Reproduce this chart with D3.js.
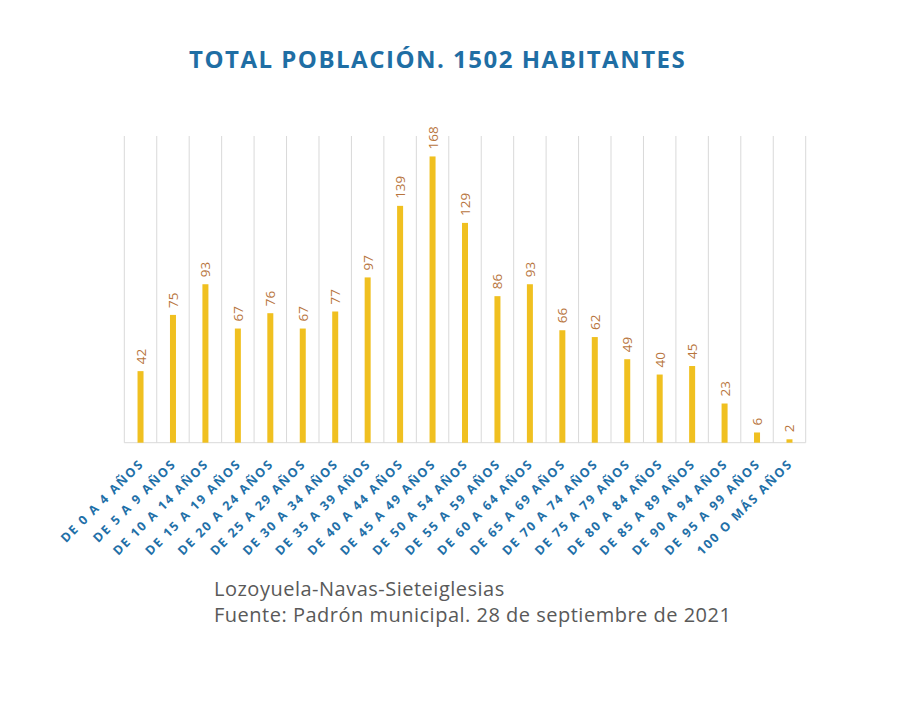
<!DOCTYPE html>
<html>
<head>
<meta charset="utf-8">
<script src="https://cdn.jsdelivr.net/npm/d3@7"></script>
<style>
  body { margin: 0; background: #fff; }
  svg { display: block; }
</style>
</head>
<body>
<div id="chart"></div>
<script>
// age groups and number of inhabitants
var grupos = ["DE 0 A 4 AÑOS", "DE 5 A 9 AÑOS", "DE 10 A 14 AÑOS", "DE 15 A 19 AÑOS",
  "DE 20 A 24 AÑOS", "DE 25 A 29 AÑOS", "DE 30 A 34 AÑOS", "DE 35 A 39 AÑOS",
  "DE 40 A 44 AÑOS", "DE 45 A 49 AÑOS", "DE 50 A 54 AÑOS", "DE 55 A 59 AÑOS",
  "DE 60 A 64 AÑOS", "DE 65 A 69 AÑOS", "DE 70 A 74 AÑOS", "DE 75 A 79 AÑOS",
  "DE 80 A 84 AÑOS", "DE 85 A 89 AÑOS", "DE 90 A 94 AÑOS", "DE 95 A 99 AÑOS",
  "100 O MÁS AÑOS"];
var habitantes = [42, 75, 93, 67, 76, 67, 77, 97, 139, 168, 129, 86, 93, 66, 62, 49, 40, 45, 23, 6, 2];
var titulo = "TOTAL POBLACIÓN. 1502 HABITANTES";
var notas = ["Lozoyuela-Navas-Sieteiglesias", "Fuente: Padrón municipal. 28 de septiembre de 2021"];

var W = 904, H = 717;
var margin = {top: 136, left: 124.3, right: W - 805.7, bottom: H - 442.7};
var width = W - margin.left - margin.right,
    height = H - margin.top - margin.bottom;

var svg = d3.select("#chart").append("svg")
    .attr("width", W)
    .attr("height", H);

// title
svg.append("text")
    .attr("x", 189)
    .attr("y", 68)
    .attr("fill", "#1f6ea4")
    .attr("font-family", "Open Sans")
    .attr("font-weight", "bold")
    .attr("font-size", 24)
    .attr("letter-spacing", 1.5)
    .text(titulo);

var g = svg.append("g")
    .attr("transform", "translate(" + margin.left + "," + margin.top + ")");

var x = d3.scaleBand()
    .domain(grupos)
    .range([0, width])
    .paddingInner(0.815)
    .paddingOuter(0.4075);

var y = d3.scaleLinear()
    .domain([0, 180])
    .range([height, 0]);

// vertical gridlines between categories
var bandStep = width / grupos.length;
g.selectAll(".grid")
    .data(d3.range(grupos.length + 1))
  .enter().append("line")
    .attr("class", "grid")
    .attr("x1", function(i) { return i * bandStep; })
    .attr("x2", function(i) { return i * bandStep; })
    .attr("y1", 0)
    .attr("y2", height)
    .attr("stroke", "#d9d9d9")
    .attr("stroke-width", 1);

// baseline
g.append("line")
    .attr("x1", 0)
    .attr("x2", width)
    .attr("y1", y(0))
    .attr("y2", y(0))
    .attr("stroke", "#d9d9d9");

// bars
g.selectAll(".bar")
    .data(habitantes)
  .enter().append("rect")
    .attr("class", "bar")
    .attr("x", function(d, i) { return x(grupos[i]); })
    .attr("width", x.bandwidth())
    .attr("y", function(d) { return y(d); })
    .attr("height", function(d) { return y(0) - y(d); })
    .attr("fill", "#f0c020");

// rotated value labels
g.selectAll(".valor")
    .data(habitantes)
  .enter().append("text")
    .attr("class", "valor")
    .attr("transform", function(d, i) {
      return "translate(" + (x(grupos[i]) + x.bandwidth() / 2 + 5) + "," + (y(d) - 7) + ") rotate(-90)";
    })
    .attr("fill", "#b8753d")
    .attr("font-family", "Open Sans")
    .attr("font-size", 13.5)
    .text(function(d) { return d; });

// x axis labels, rotated -45
var xAxis = g.append("g")
    .attr("transform", "translate(0," + height + ")")
    .call(d3.axisBottom(x).tickSize(0).tickPadding(0));
xAxis.select(".domain").remove();
xAxis.selectAll("text")
    .attr("fill", "#1f70a8")
    .attr("font-family", "Open Sans")
    .attr("font-weight", "bold")
    .attr("font-size", 12.5)
    .attr("letter-spacing", 1.8)
    .attr("text-anchor", "end")
    .attr("dy", null)
    .attr("y", 0)
    .attr("transform", "translate(4,22) rotate(-45)");

// footnote
svg.selectAll(".nota")
    .data(notas)
  .enter().append("text")
    .attr("class", "nota")
    .attr("x", 214)
    .attr("y", function(d, i) { return 596 + i * 26; })
    .attr("fill", "#595959")
    .attr("font-family", "Open Sans")
    .attr("font-size", 20)
    .attr("letter-spacing", 0.5)
    .text(function(d) { return d; });
</script>
</body>
</html>
